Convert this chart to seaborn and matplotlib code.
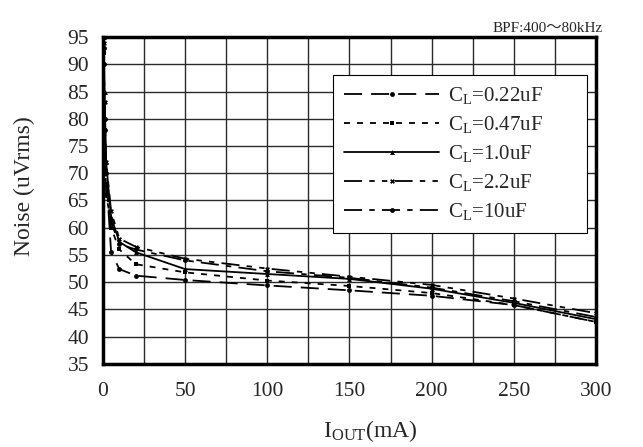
import matplotlib
matplotlib.use("Agg")
import matplotlib.pyplot as plt
import seaborn as sns
import pandas as pd
import numpy as np

# ---- data ----
x_ma = [0.5, 1, 2, 5, 10, 20, 50, 100, 150, 200, 250, 300]
cl_022 = [93, 80, 70, 55.5, 52.4, 51.2, 50.4, 49.4, 48.5, 47.5, 45.8, 42.7]
cl_047 = [92, 78, 68, 60, 56, 53.3, 51.8, 50.3, 49.3, 48.0, 45.8, 42.7]
cl_10 = [95, 85, 72, 62, 57.4, 55.5, 52.4, 51.5, 50.6, 48.8, 46.2, 43.2]
cl_22 = [94, 83, 72, 63, 58, 56.5, 54.3, 52.5, 51.0, 49.5, 47.0, 44.3]
cl_100 = [90, 78, 66, 61, 57, 56, 54, 52, 50.8, 49.0, 46.5, 43.6]
labels = [r"C$_{\mathrm{L}}$=0.22uF", r"C$_{\mathrm{L}}$=0.47uF",
          r"C$_{\mathrm{L}}$=1.0uF", r"C$_{\mathrm{L}}$=2.2uF",
          r"C$_{\mathrm{L}}$=10uF"]
series = [cl_022, cl_047, cl_10, cl_22, cl_100]
xticks = [0, 50, 100, 150, 200, 250, 300]
yticks = list(range(35, 100, 5))

rows = []
for lab, vals in zip(labels, series):
    for xv, yv in zip(x_ma, vals):
        rows.append({"x": xv, "y": yv, "CL": lab})
df = pd.DataFrame(rows)

sns.set_style("white")
plt.rcParams["font.family"] = ["Liberation Serif", "Noto Sans CJK JP"]
plt.rcParams["mathtext.fontset"] = "custom"
plt.rcParams["mathtext.rm"] = "Liberation Serif"
plt.rcParams["mathtext.it"] = "Liberation Serif:italic"

fig = plt.figure(figsize=(6.43, 4.47), dpi=100)
ax = fig.add_axes([0.160, 0.186, 0.767, 0.731])

dashes = {labels[0]: (10, 5), labels[1]: (3.3, 3.9), labels[2]: "",
          labels[3]: (10, 4, 3, 4, 3, 4), labels[4]: (10, 4, 3, 4)}
markers = {labels[0]: "o", labels[1]: "s", labels[2]: "^",
           labels[3]: "X", labels[4]: "o"}
palette = {l: "black" for l in labels}

sns.lineplot(data=df, x="x", y="y", hue="CL", style="CL", hue_order=labels,
             style_order=labels, dashes=dashes, markers=markers, palette=palette,
             markersize=3.5, markeredgewidth=0, linewidth=1.3, ax=ax, estimator=None)

ax.set_xlim(0, 300)
ax.set_ylim(35, 95)
ax.set_xticks(xticks)
ax.set_yticks(yticks)
ax.set_xticks(np.arange(0, 301, 25), minor=True)
ax.grid(True, which="both", color="#2a2a2a", linewidth=1.0)
ax.tick_params(axis="both", which="both", length=0, labelsize=15.5)
ax.tick_params(axis="y", pad=10)
ax.tick_params(axis="x", pad=13)
for sp in ax.spines.values():
    sp.set_linewidth(2.5)
    sp.set_color("black")

ax.set_xlabel(r"I$_{\mathrm{OUT}}$(mA)", fontsize=17)
ax.set_ylabel("Noise (uVrms)", fontsize=17)
ax.xaxis.set_label_coords(0.542, -0.166)
ax.yaxis.set_label_coords(-0.138, 0.545)

leg = ax.legend(loc="upper left", bbox_to_anchor=(0.467, 0.407, 0.515, 0.477),
                mode="expand", fontsize=15,
                frameon=True, fancybox=False, framealpha=1, edgecolor="black",
                handlelength=4.6, labelspacing=0.38, borderpad=0.5,
                handletextpad=0.4, borderaxespad=0)
leg.get_frame().set_linewidth(0.8)

ax.text(1.014, 1.005, "BPF:400～80kHz", transform=ax.transAxes, ha="right",
        va="bottom", fontsize=11)

fig.savefig("out.png", dpi=100)
